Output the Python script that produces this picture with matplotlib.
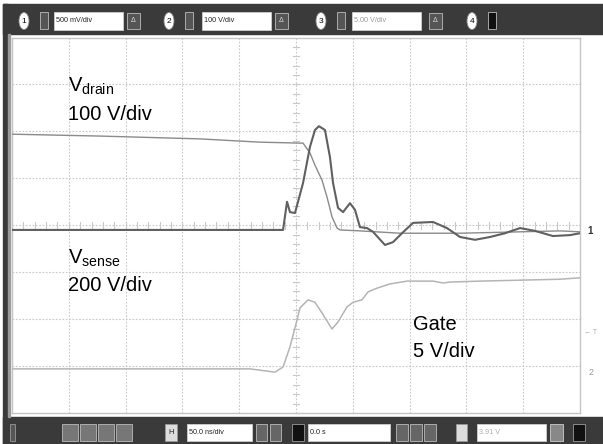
import numpy as np
import matplotlib
matplotlib.use("Agg")
import matplotlib.pyplot as plt
from matplotlib.patches import Rectangle, Ellipse

plt.rcParams['font.family'] = ['Liberation Sans', 'DejaVu Sans']
plt.rcParams['mathtext.fontset'] = 'custom'
plt.rcParams['mathtext.rm'] = 'Liberation Sans'
plt.rcParams['mathtext.it'] = 'Liberation Sans'

# time axis in ns (50 ns/div, trigger in the centre), levels in divisions
sense_t = [-250, -11.4, -7.9, -5.3, -0.9, 6.2, 12.3, 16.7, 20.2, 25.5, 29.9, 32.6,
           37.0, 41.4, 47.5, 51.9, 56.3, 62.5, 67.8, 78.3, 85.4, 93.3, 103.0, 120.6,
           132.9, 144.4, 157.6, 170.8, 184.0, 197.2, 210.4, 226.2, 241.2, 250]
sense_v = [-0.10, -0.10, 0.50, 0.28, 0.26, 0.90, 1.67, 2.03, 2.11, 2.03, 1.45, 0.90,
           0.37, 0.28, 0.47, 0.33, -0.04, -0.06, -0.14, -0.42, -0.36, -0.17, 0.05, 0.07,
           -0.06, -0.25, -0.31, -0.25, -0.17, -0.06, -0.12, -0.23, -0.21, -0.17]

drain_t = [-250, -172.5, -84.5, -31.7, 3.5, 6.2, 12.3, 16.7, 22.9, 27.3, 31.7, 36.1,
           38.7, 56.3, 91.5, 144.4, 197.2, 232.4, 250]
drain_v = [1.94, 1.90, 1.84, 1.77, 1.75, 1.75, 1.54, 1.28, 0.96, 0.60, 0.18, -0.06,
           -0.10, -0.12, -0.17, -0.17, -0.14, -0.12, -0.14]

gate_t = [-250, -40.5, -18.5, -11.4, -5.3, 0.9, 3.5, 10.6, 16.7, 22.9, 31.7, 37.0,
          44.9, 50.2, 58.1, 63.4, 71.3, 82.8, 97.8, 120.6, 129.4, 135.6, 162.0,
          197.2, 232.4, 250]
gate_v = [-3.06, -3.06, -3.13, -3.02, -2.59, -2.02, -1.76, -1.59, -1.64, -1.87, -2.21,
          -2.06, -1.74, -1.64, -1.59, -1.42, -1.34, -1.25, -1.19, -1.19, -1.23, -1.21,
          -1.19, -1.17, -1.15, -1.12]

ch_scales = ["500 mV/div", "100 V/div", "5.00 V/div"]
time_scale = "50.0 ns/div"
delay = "0.0 s"
trig_level = "3.91 V"

W, H = 603, 444
fig = plt.figure(figsize=(W / 100, H / 100), dpi=100)

# background axes in pixel coordinates for the instrument frame
bg = fig.add_axes([0, 0, 1, 1])
bg.set_xlim(0, W)
bg.set_ylim(H, 0)
bg.axis('off')

dark = '#3a3a3a'
bg.add_patch(Rectangle((3, 4), W - 3, 30, color=dark))
bg.add_patch(Rectangle((3, 417), W - 3, 27, color=dark))
bg.add_patch(Rectangle((3, 4), 5, H - 4, color=dark))
bg.add_patch(Rectangle((8, 34), 1.5, 383, color='#9a9a9a'))

def chip(x, w, y=12, h=18, fc='white', ec='#cfcfcf'):
    bg.add_patch(Rectangle((x, y), w, h, facecolor=fc, edgecolor=ec, lw=0.6))

# top bar: channel scale boxes
for i, (cx, bx, dx, lab) in enumerate([(24, 54, 127, ch_scales[0]),
                                       (169, 202, 275, ch_scales[1]),
                                       (321, 352, 429, ch_scales[2])]):
    bg.add_patch(Ellipse((cx, 21), 10, 17, facecolor='white', edgecolor='#888', lw=0.6))
    bg.text(cx, 21.5, str(i + 1), ha='center', va='center', fontsize=6, color='black')
    chip(cx + 16, 8, y=12, h=17, fc='#555', ec='#bbb')
    chip(bx, 69, y=12, h=18)
    bg.text(bx + 2, 21, lab, ha='left', va='center', fontsize=5.2,
            color='#999' if i == 2 else '#222')
    chip(dx, 13, y=13, h=16, fc='#555', ec='#bbb')
    bg.text(dx + 6.5, 20.5, "Δ", ha='center', va='center', fontsize=5, color='#ddd')
bg.add_patch(Ellipse((472, 21), 10, 17, facecolor='white', edgecolor='#888', lw=0.6))
bg.text(472, 21.5, "4", ha='center', va='center', fontsize=6, color='black')
chip(488, 8, y=12, h=17, fc='#111', ec='#bbb')

# bottom bar
by, bh = 424, 17
chip(10, 5, y=by, h=bh, fc='#555', ec='#999')
for x0 in [62, 80, 98, 116]:
    chip(x0, 16, y=by, h=bh, fc='#777', ec='#bbb')
chip(165, 12, y=by, h=bh, fc='#ddd', ec='#999')
bg.text(171, by + bh / 2, "H", ha='center', va='center', fontsize=5.5, color='#222')
chip(187, 65, y=by, h=bh)
bg.text(189, by + bh / 2, time_scale, ha='left', va='center', fontsize=5.2, color='#222')
chip(256, 11, y=by, h=bh, fc='#666', ec='#bbb')
chip(270, 11, y=by, h=bh, fc='#666', ec='#bbb')
chip(292, 12, y=by, h=bh, fc='#111', ec='#999')
chip(308, 82, y=by, h=bh)
bg.text(310, by + bh / 2, delay, ha='left', va='center', fontsize=5.2, color='#222')
for x0 in [396, 410, 424]:
    chip(x0, 12, y=by, h=bh, fc='#666', ec='#bbb')
chip(456, 11, y=by, h=bh, fc='#ddd', ec='#999')
chip(477, 69, y=by, h=bh)
bg.text(479, by + bh / 2, trig_level, ha='left', va='center', fontsize=5.2, color='#aaa')
chip(550, 13, y=by, h=bh, fc='#888', ec='#ccc')
chip(573, 12, y=by, h=bh, fc='#111', ec='#999')

# scope graticule: 10 x 8 divisions
left, right, top, bottom = 12, 580, 37.5, 413
ax = fig.add_axes([left / W, (H - bottom) / H, (right - left) / W, (bottom - top) / H])
ax.set_xlim(-250, 250)
ax.set_ylim(-4, 4)
ax.set_xticks([])
ax.set_yticks([])
for s in ax.spines.values():
    s.set_color('#c4c4c4')
    s.set_linewidth(1.0)

gcol = '#c8c8c8'
for xv in np.arange(-200, 250, 50):
    ax.axvline(xv, color=gcol, lw=0.8, ls=(0, (1.5, 1.5)), zorder=1)
for yv in np.arange(-3, 4, 1):
    ax.axhline(yv, color=gcol, lw=0.8, ls=(0, (1.5, 1.5)), zorder=1)
# minor ticks on the centre lines
for xv in np.arange(-250, 251, 10):
    ax.plot([xv, xv], [-0.07, 0.07], color=gcol, lw=0.8, zorder=1)
for yv in np.arange(-4, 4.01, 0.2):
    ax.plot([-3, 3], [yv, yv], color=gcol, lw=0.8, zorder=1)

ax.plot(gate_t, gate_v, color='#b4b4b4', lw=1.1, zorder=3)
ax.plot(drain_t, drain_v, color='#8a8a8a', lw=1.0, zorder=4)
ax.plot(sense_t, sense_v, color='#606060', lw=1.5, zorder=5)

# foreground overlay for labels
fg = fig.add_axes([0, 0, 1, 1])
fg.set_xlim(0, W)
fg.set_ylim(H, 0)
fg.axis('off')
fg.patch.set_alpha(0)

fs = 14.5
fg.text(68, 92, r"V$_{\rm drain}$", fontsize=fs, va='baseline', ha='left')
fg.text(68, 120, "100 V/div", fontsize=fs, va='baseline', ha='left')
fg.text(68, 264, r"V$_{\rm sense}$", fontsize=fs, va='baseline', ha='left')
fg.text(68, 291, "200 V/div", fontsize=fs, va='baseline', ha='left')
fg.text(413, 330, "Gate", fontsize=fs, va='baseline', ha='left')
fg.text(413, 357, "5 V/div", fontsize=fs, va='baseline', ha='left')

# channel ground / trigger markers on the right edge
fg.text(590, 231, "1", fontsize=7, color='#333', ha='center', va='center', fontweight='bold')
fg.text(591, 332, "← T", fontsize=5, color='#aaa', ha='center', va='center')
fg.text(591, 372, "2", fontsize=6.5, color='#999', ha='center', va='center')

fig.savefig("out.png", dpi=100)
